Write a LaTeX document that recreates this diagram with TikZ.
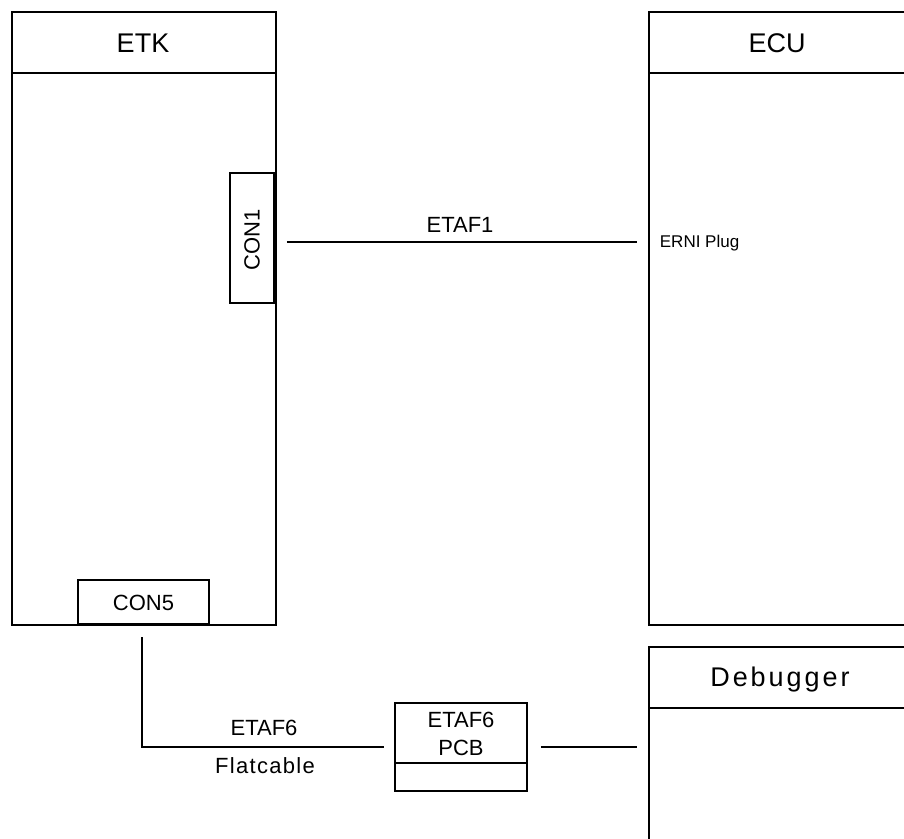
\documentclass[tikz,border=0pt]{standalone}
\usepackage{fontspec}
\setmainfont{Liberation Sans}
\usetikzlibrary{calc}
\begin{document}
\begin{tikzpicture}[x=1pt,y=-1pt,
  line width=1.8pt,
  blockbox/.style={draw, line width=1.8pt, anchor=north west, inner sep=0pt},
  titletext/.style={anchor=base, inner sep=0pt, font=\fontsize{27}{30}\selectfont},
  labeltext/.style={anchor=base, inner sep=0pt, font=\fontsize{22}{24}\selectfont},
  smalltext/.style={anchor=base west, inner sep=0pt, font=\fontsize{17}{19}\selectfont},
  wire/.style={line width=1.8pt}]
\useasboundingbox (0,0) rectangle (904,838);
\clip (0,0) rectangle (904,838);

% ETK
\node[blockbox, minimum width=264pt, minimum height=613pt] (etk) at (11,11) {};
\draw ([yshift=-62pt]etk.north west) -- ([yshift=-62pt]etk.north east);
\node[titletext] (etkt) at (143,52) {ETK};

% ECU
\node[blockbox, minimum width=258pt, minimum height=613pt] (ecu) at (648,11) {};
\draw ([yshift=-62pt]ecu.north west) -- ([yshift=-62pt]ecu.north east);
\node[titletext] (ecut) at (777,52) {ECU};
\node[smalltext] (erni) at (659,247) {ERNI Plug};

% Debugger
\node[blockbox, minimum width=258pt, minimum height=250pt] (dbg) at (648,646) {};
\draw ([yshift=-62pt]dbg.north west) -- ([yshift=-62pt]dbg.north east);
\node[titletext, font=\fontsize{27}{30}\selectfont\addfontfeature{LetterSpace=11}] (dbgt) at (780,686) {Debugger};

% CON1
\node[draw, fill=white, minimum width=44pt, minimum height=130pt, inner sep=0pt] (con1) at (252,238) {};
\node[labeltext, anchor=center, rotate=90] (con1t) at (252,240) {CON1};

% CON5
\node[draw, fill=white, minimum width=131pt, minimum height=44pt, inner sep=0pt] (con5) at (143.5,602) {};
\node[labeltext] (con5t) at (143.5,610) {CON5};

% ETAF6 PCB
\node[draw, minimum width=132pt, minimum height=88pt, inner sep=0pt] (pcb) at (461,747) {};
\draw ([yshift=-61pt]pcb.north west) -- ([yshift=-61pt]pcb.north east);
\node[labeltext] (pcbt1) at (461,727) {ETAF6};
\node[labeltext] (pcbt2) at (461,755) {PCB};

% connectors
\draw[wire, shorten <=12pt, shorten >=11pt] (con1.east |- 0,242) -- (ecu.west |- 0,242);
\node[labeltext] (etaf1) at (460,232) {ETAF1};

\draw[wire, shorten <=13pt, shorten >=10pt] (142,624) coordinate (c5s) -- (c5s |- pcb.west) -- (pcb.west);
\node[labeltext] (etaf6) at (264,735) {ETAF6};
\node[labeltext, font=\fontsize{22}{24}\selectfont\addfontfeature{LetterSpace=6}] (flat) at (265,773) {Flatcable};

\draw[wire, shorten <=13pt, shorten >=11pt] (pcb.east) -- (pcb.east -| dbg.west);
\end{tikzpicture}
\end{document}
